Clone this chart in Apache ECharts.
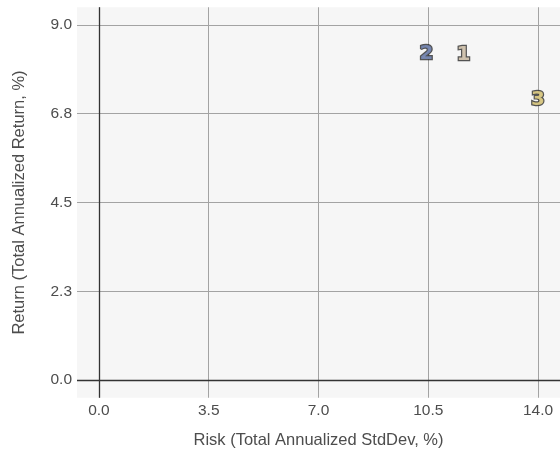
<!DOCTYPE html>
<html>
<head>
<meta charset="utf-8">
<script src="https://cdn.jsdelivr.net/npm/echarts@6/dist/echarts.min.js"></script>
<style>html,body{margin:0;padding:0;background:#fff}#c{width:560px;height:456px}</style>
</head>
<body>
<div id="c"></div>
<script>
const labels = ['1', '2', '3'];
const riskValues = [11.62, 10.44, 14.0];
const returnValues = [8.24, 8.27, 7.10];
const labelColors = ['#f3e2c9', '#8599cc', '#fbe795'];
const xTicks = [0, 3.5, 7, 10.5, 14];
const yTicks = [0, 2.25, 4.5, 6.75, 9];

const chart = echarts.init(document.getElementById('c'));
const points = labels.map((l, i) => ({ value: [riskValues[i], returnValues[i]], name: l }));
const fillData = labels.map((l, i) => ({
  value: [riskValues[i], returnValues[i]],
  name: l,
  label: { color: labelColors[i] }
}));
const ff = 'Liberation Sans, Arial, sans-serif';
const tickText = { color: '#4d4d4d', fontSize: 15.5, fontFamily: ff };
const nameText = { color: '#4d4d4d', fontSize: 16.5, fontFamily: ff };
const digitFont = { fontSize: 20, fontWeight: 'bold', fontFamily: 'DejaVu Sans, sans-serif' };
chart.setOption({
  animation: false,
  grid: { left: 77, top: 7.25, width: 485, height: 390.5, show: true, backgroundColor: '#f6f6f6', borderWidth: 0 },
  xAxis: {
    type: 'value', min: -0.7, max: 14.7,
    name: 'Risk (Total Annualized StdDev, %)', nameLocation: 'middle', nameGap: 34,
    nameTextStyle: nameText,
    axisLine: { show: false, onZero: false },
    axisTick: { show: false, customValues: xTicks },
    axisLabel: Object.assign({ customValues: xTicks, margin: 5, formatter: v => v.toFixed(1) }, tickText),
    splitLine: { show: true, lineStyle: { color: '#a3a3a3', width: 1 } }
  },
  yAxis: {
    type: 'value', min: -0.45, max: 9.45,
    name: 'Return (Total Annualized Return, %)', nameLocation: 'middle', nameGap: 49,
    nameTextStyle: nameText,
    axisLine: { show: false, onZero: false },
    axisTick: { show: false, customValues: yTicks },
    axisLabel: Object.assign({ customValues: yTicks, margin: 5, formatter: v => v.toFixed(1) }, tickText),
    splitLine: { show: true, lineStyle: { color: '#a3a3a3', width: 1 } }
  },
  series: [{
    type: 'scatter',
    data: points,
    symbolSize: 1,
    itemStyle: { color: 'rgba(0,0,0,0)' },
    clip: false,
    silent: true,
    label: Object.assign({
      show: true, position: 'inside', formatter: p => p.name,
      color: '#2b2b2b', textBorderColor: '#2b2b2b', textBorderWidth: 2.4
    }, digitFont),
    markLine: {
      silent: true, symbol: 'none', label: { show: false },
      lineStyle: { color: '#333', width: 1.3, type: 'solid' },
      data: [{ xAxis: 0 }, { yAxis: 0 }]
    },
    z: 5
  }, {
    type: 'scatter',
    data: fillData,
    symbolSize: 1,
    itemStyle: { color: 'rgba(0,0,0,0)' },
    clip: false,
    label: Object.assign({
      show: true, position: 'inside', formatter: p => p.name, textBorderWidth: 0
    }, digitFont),
    z: 6
  }]
});
</script>
</body>
</html>
